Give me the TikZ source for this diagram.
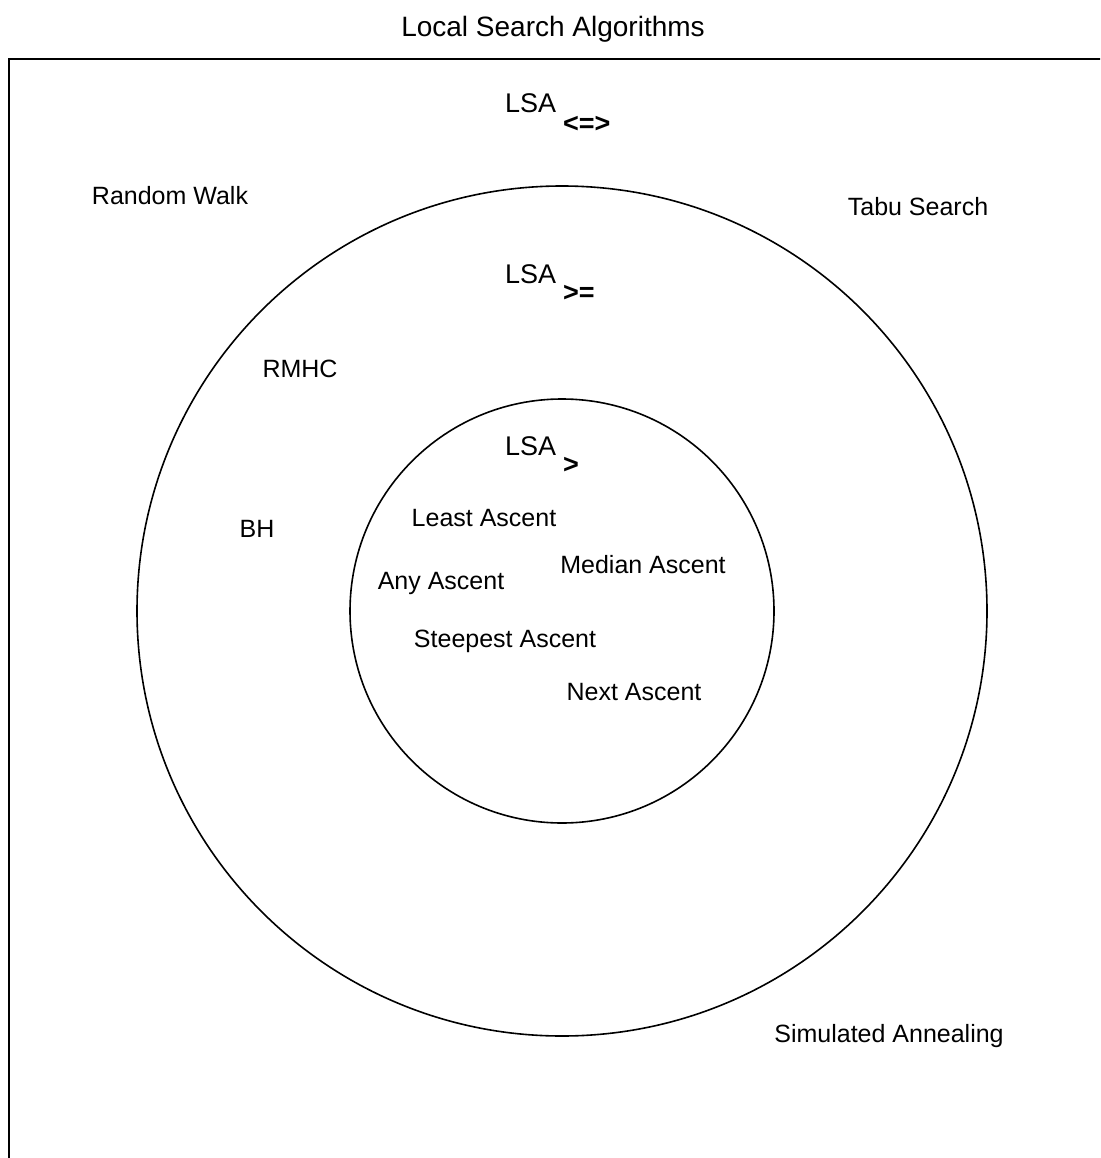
\documentclass[tikz,border=0pt]{standalone}
\usepackage{fontspec}
\setmainfont{Liberation Sans}

\begin{document}
\begin{tikzpicture}[x=1pt,y=-1pt,
  lbl/.style={font=\fontsize{25}{30}\selectfont,inner sep=0pt,anchor=base},
  lsa/.style={font=\fontsize{27}{32}\selectfont,inner sep=0pt,anchor=base west},
  rel/.style={font=\fontsize{27}{32}\selectfont\bfseries,inner sep=0pt,anchor=base west},
  ring/.style={line width=1.6pt}]
  \useasboundingbox (0,0) rectangle (1100,1158);
  \clip (0,0) rectangle (1100,1158);
  \node[lbl,font=\fontsize{28}{34}\selectfont] (title) at (553,37) {Local Search Algorithms};
  \draw[line width=2pt] (9,59) rectangle (1130,1190);
  \coordinate (centre) at (562,611);
  \draw[ring] (centre) circle (425pt);
  \draw[ring] (centre) circle (212pt);
  % outer class
  \node[lsa] (lsaAll) at (505,113) {LSA};
  \node[rel] (relAll) at (563,133) {<=>};
  \node[lbl] (walk) at (170,205) {Random Walk};
  \node[lbl] (tabu) at (918,216) {Tabu Search};
  \node[lbl] (anneal) at (889,1042) {Simulated Annealing};
  % middle class
  \node[lsa] (lsaGeq) at (505,283) {LSA};
  \node[rel] (relGeq) at (563,301) {>=};
  \node[lbl] (rmhc) at (300,377) {RMHC};
  \node[lbl] (bh) at (257,537) {BH};
  % inner class
  \node[lsa] (lsaGt) at (505,455) {LSA};
  \node[rel] (relGt) at (563,473) {>};
  \node[lbl] (least) at (484,526) {Least Ascent};
  \node[lbl] (median) at (643,573) {Median Ascent};
  \node[lbl] (any) at (441,589) {Any Ascent};
  \node[lbl] (steep) at (505,647) {Steepest Ascent};
  \node[lbl] (next) at (634,700) {Next Ascent};
\end{tikzpicture}
\end{document}
